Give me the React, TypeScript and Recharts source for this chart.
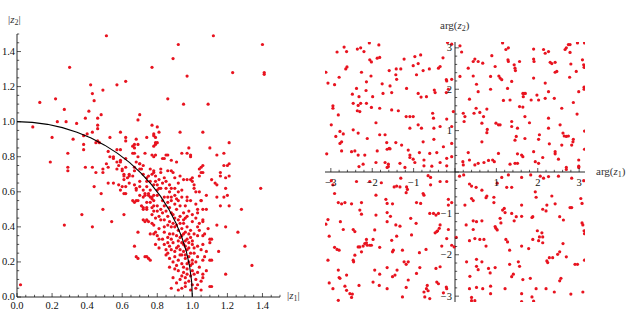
import React from 'react';
import { ScatterChart, Scatter, XAxis, YAxis, ReferenceLine } from 'recharts';

const RED = '#e8131f';
const SERIF = '"Liberation Serif", "DejaVu Serif", serif';

type Pt = [number, number];

// left panel: (|z1|, |z2|)
const absUpper: Pt[] = [
  [0.51, 1.49], [0.3, 1.31], [0.62, 1.23], [0.42, 1.21], [0.57, 1.21], [0.49, 1.18], [0.43, 1.16], [0.22, 1.13],
  [0.13, 1.11], [0.44, 1.12], [0.27, 1.07], [0.41, 1.06], [0.48, 1.04], [0.46, 1.02], [0.39, 1.02], [0.7, 1.04],
  [0.69, 1.01], [0.77, 1.31], [0.28, 1.0], [0.09, 0.97], [0.23, 1.0], [0.34, 0.99], [0.46, 0.98], [0.46, 0.96],
  [0.43, 0.94], [0.59, 0.94], [0.74, 0.91], [0.77, 0.98], [0.78, 0.93], [0.79, 0.91], [0.81, 0.94], [0.2, 0.91],
  [0.32, 0.9], [0.38, 0.92], [0.4, 0.93], [0.53, 0.91], [0.62, 0.91], [0.62, 0.89], [0.68, 0.9], [0.46, 0.89],
  [0.45, 0.88], [0.47, 0.88], [0.38, 0.87], [0.67, 0.87], [0.66, 0.86], [0.69, 0.87], [0.38, 0.84], [0.52, 0.83],
  [0.57, 0.84], [0.59, 0.84], [0.29, 0.82], [0.66, 0.82], [0.67, 0.82], [0.79, 0.81], [0.55, 0.8], [0.53, 0.8],
  [0.62, 0.79], [0.69, 0.8], [0.78, 0.86], [0.8, 0.88],
  [1.12, 1.49], [0.92, 1.44], [1.4, 1.44], [0.89, 1.36], [1.23, 1.28], [1.41, 1.28], [1.41, 1.27], [0.97, 1.26],
  [0.86, 1.13], [0.95, 1.1], [1.09, 1.1], [0.8, 0.97], [0.78, 0.92], [0.93, 0.94], [1.06, 0.94], [0.79, 0.87],
  [1.21, 0.88], [0.98, 0.85], [1.1, 0.85], [1.18, 0.82], [0.97, 0.82], [0.99, 0.81], [1.14, 0.81], [0.83, 0.79],
  [0.85, 0.81], [0.79, 0.88], [0.67, 0.85], [0.73, 0.82], [0.77, 0.81], [0.84, 0.79], [0.86, 0.81], [0.88, 0.78],
  [0.91, 0.77], [0.94, 0.82], [0.99, 0.8],
];

const absMiddle: Pt[] = [
  [0.19, 0.77], [0.29, 0.74], [0.29, 0.72], [0.39, 0.74], [0.43, 0.74], [0.45, 0.71], [0.49, 0.73], [0.49, 0.71],
  [0.51, 0.76], [0.52, 0.74], [0.55, 0.79], [0.57, 0.77], [0.58, 0.75], [0.59, 0.78], [0.57, 0.73], [0.6, 0.72],
  [0.61, 0.7], [0.61, 0.67], [0.64, 0.69], [0.44, 0.63], [0.48, 0.59], [0.52, 0.65], [0.55, 0.65], [0.58, 0.64],
  [0.6, 0.63], [0.62, 0.63], [0.62, 0.59], [0.64, 0.65], [0.66, 0.69], [0.67, 0.72], [0.66, 0.55], [0.68, 0.62],
  [0.69, 0.55], [0.68, 0.77], [0.7, 0.76], [0.71, 0.73], [0.72, 0.7], [0.7, 0.66], [0.72, 0.61], [0.73, 0.59],
  [0.74, 0.63], [0.76, 0.66], [0.77, 0.7], [0.78, 0.72], [0.78, 0.8], [0.75, 0.58], [0.77, 0.56], [0.74, 0.54],
  [0.72, 0.5], [0.74, 0.5], [0.78, 0.52], [0.8, 0.58], [0.81, 0.62], [0.79, 0.66], [0.8, 0.49], [0.77, 0.47],
  [0.79, 0.45], [0.72, 0.44], [0.74, 0.44], [0.77, 0.42], [0.61, 0.47], [0.54, 0.43], [0.49, 0.5], [0.37, 0.47],
  [0.27, 0.41], [0.43, 0.4],
  [1.05, 0.74], [1.06, 0.75], [1.06, 0.71], [1.18, 0.75], [1.2, 0.75], [1.16, 0.69], [1.13, 0.65], [1.19, 0.62],
  [1.2, 0.58], [1.14, 0.57], [1.18, 0.57], [1.39, 0.62], [1.16, 0.52], [1.28, 0.5], [1.04, 0.6], [1.01, 0.64],
  [1.04, 0.69], [1.0, 0.66], [1.0, 0.68], [1.21, 0.76], [1.04, 0.73],
  [0.7, 0.76], [0.72, 0.75], [0.67, 0.74], [0.7, 0.73], [0.59, 0.77], [0.6, 0.73], [0.62, 0.74], [0.76, 0.73],
  [0.78, 0.71], [0.82, 0.73], [0.82, 0.71], [0.86, 0.72], [0.88, 0.72], [0.89, 0.71], [0.95, 0.67], [0.97, 0.67],
  [0.99, 0.67], [0.84, 0.68], [0.85, 0.66], [0.75, 0.69], [0.74, 0.66], [0.64, 0.7], [0.63, 0.68], [0.61, 0.69],
  [0.67, 0.64], [0.7, 0.63], [0.68, 0.61], [0.8, 0.64], [0.8, 0.61], [0.87, 0.64], [0.88, 0.62], [0.9, 0.62],
  [0.94, 0.61], [1.01, 0.62], [1.02, 0.6], [1.14, 0.64], [1.16, 0.71], [1.19, 0.68], [1.21, 0.69], [1.05, 0.71],
  [1.11, 0.67], [0.59, 0.61], [0.61, 0.59], [0.73, 0.58], [0.76, 0.57], [0.78, 0.58], [0.84, 0.57], [0.86, 0.57],
  [0.88, 0.57], [0.97, 0.57], [1.08, 0.58], [0.9, 0.58], [0.92, 0.6], [0.82, 0.62], [0.78, 0.64], [0.76, 0.61],
  [0.74, 0.68], [0.87, 0.6], [0.85, 0.62], [0.83, 0.65], [0.81, 0.67], [0.79, 0.69], [0.92, 0.65], [0.93, 0.69],
  [0.9, 0.68],
];

const absLower: Pt[] = [
  [0.68, 0.55], [0.67, 0.54], [0.7, 0.58], [0.72, 0.57], [0.75, 0.59], [0.77, 0.57], [0.78, 0.55], [0.76, 0.54],
  [0.71, 0.52], [0.72, 0.51], [0.74, 0.51], [0.77, 0.51], [0.78, 0.49], [0.8, 0.52], [0.82, 0.5], [0.83, 0.48],
  [0.84, 0.52], [0.86, 0.54], [0.88, 0.55], [0.91, 0.56], [0.97, 0.55], [0.99, 0.55], [1.05, 0.55], [1.03, 0.5],
  [1.06, 0.5], [1.08, 0.5], [1.21, 0.52], [0.73, 0.43], [0.75, 0.43], [0.78, 0.41], [0.81, 0.46], [0.84, 0.44],
  [0.86, 0.46], [0.87, 0.43], [0.89, 0.42], [0.92, 0.44], [0.95, 0.42], [0.97, 0.4], [1.0, 0.43], [1.04, 0.42],
  [1.06, 0.44], [1.06, 0.43], [1.03, 0.4], [1.03, 0.48], [1.05, 0.55],
  [0.69, 0.37], [0.76, 0.36], [0.79, 0.37], [0.84, 0.37], [0.87, 0.36], [0.86, 0.34], [0.91, 0.35], [0.93, 0.34],
  [0.95, 0.36], [0.99, 0.34], [1.03, 0.35], [1.06, 0.35], [1.11, 0.33], [1.1, 0.31], [1.07, 0.36], [1.1, 0.33],
  [0.78, 0.36], [0.8, 0.35], [0.81, 0.33], [0.79, 0.3], [0.67, 0.29], [0.81, 0.28], [0.84, 0.3], [0.87, 0.29],
  [0.89, 0.31], [0.91, 0.28], [0.94, 0.31], [0.96, 0.29], [0.98, 0.28], [1.0, 0.3], [1.03, 0.29], [1.06, 0.3],
  [0.68, 0.23], [0.69, 0.22], [0.73, 0.23], [0.75, 0.22], [0.74, 0.23], [0.76, 0.21], [0.85, 0.24], [0.87, 0.22],
  [0.9, 0.23], [0.92, 0.21], [0.94, 0.24], [0.96, 0.22], [0.98, 0.23], [1.0, 0.21], [1.03, 0.23], [1.06, 0.21],
  [1.07, 0.23], [1.1, 0.21], [1.15, 0.26], [0.9, 0.16], [0.92, 0.15], [0.95, 0.14], [0.97, 0.16], [1.0, 0.15],
  [1.03, 0.14], [1.06, 0.13], [0.89, 0.11], [0.93, 0.1], [0.96, 0.11], [0.98, 0.09], [1.02, 0.1], [1.05, 0.09],
  [1.06, 0.11], [0.88, 0.05], [0.92, 0.04], [0.96, 0.06], [0.99, 0.04], [1.02, 0.05], [1.05, 0.04], [1.1, 0.06],
  [0.9, 0.4], [0.92, 0.38], [0.94, 0.39], [0.96, 0.37], [0.93, 0.46], [0.95, 0.48], [0.91, 0.5], [0.93, 0.52],
  [0.89, 0.47], [0.96, 0.45], [0.98, 0.31], [0.95, 0.26], [0.93, 0.27], [0.97, 0.19], [0.99, 0.18], [0.94, 0.19],
  [0.91, 0.18], [1.01, 0.25], [0.97, 0.33], [0.92, 0.32], [0.89, 0.36], [0.9, 0.26], [0.88, 0.4], [0.85, 0.49],
  [0.87, 0.51], [0.83, 0.55],
  [0.93, 0.42], [0.95, 0.44], [0.97, 0.46], [0.91, 0.41], [0.99, 0.38], [1.01, 0.36], [0.94, 0.35], [0.96, 0.32],
  [0.98, 0.36], [1.0, 0.32], [0.92, 0.29], [0.95, 0.3], [0.97, 0.27], [0.99, 0.25], [1.01, 0.28], [0.93, 0.24],
  [0.96, 0.24], [0.98, 0.2], [1.0, 0.19], [1.02, 0.2], [0.95, 0.17], [0.97, 0.13], [0.99, 0.12], [1.01, 0.13],
  [0.94, 0.12], [0.96, 0.08], [1.0, 0.07], [1.03, 0.07], [0.91, 0.08], [0.94, 0.05], [0.88, 0.33], [0.86, 0.31],
  [0.88, 0.27], [0.86, 0.25], [0.89, 0.2], [0.87, 0.17], [0.9, 0.45], [0.88, 0.48], [0.86, 0.41], [0.84, 0.4],
  [0.82, 0.44], [0.81, 0.39], [0.83, 0.33], [0.85, 0.27], [0.92, 0.55], [0.9, 0.53], [0.94, 0.57], [0.96, 0.52],
  [0.98, 0.49], [1.0, 0.47], [1.02, 0.45], [1.04, 0.38], [1.05, 0.27], [1.04, 0.17], [1.08, 0.15], [1.08, 0.26],
  [1.09, 0.39], [1.02, 0.53],
  [1.14, 0.41], [1.19, 0.4], [1.26, 0.37], [1.3, 0.29], [1.11, 0.21], [1.34, 0.18], [1.19, 0.13], [1.11, 0.06],
  [0.02, 0.07],
];

// right panel: (arg z1, arg z2) by quadrant
const argUpperLeft: Pt[] = [
  [-3.12, 2.41], [-3.07, 2.15], [-2.91, 2.11], [-2.8, 2.29], [-2.68, 3.02], [-2.62, 2.91], [-2.85, 2.9], [-2.64, 2.49],
  [-2.61, 2.54], [-2.36, 2.97], [-2.28, 3.0], [-2.2, 2.91], [-2.07, 3.12], [-2.06, 2.71], [-2.02, 2.66], [-1.88, 2.75],
  [-1.82, 2.77], [-1.84, 3.07], [-2.26, 2.41], [-2.03, 2.32], [-2.14, 2.18], [-2.38, 2.02], [-2.15, 1.97], [-1.76, 2.13],
  [-1.59, 2.45], [-1.57, 2.08], [-1.43, 2.35], [-1.41, 2.24], [-1.42, 2.49], [-1.31, 2.49], [-1.23, 2.73], [-1.01, 2.57],
  [-0.97, 2.79], [-0.93, 2.35], [-0.89, 2.62], [-0.83, 2.83], [-0.77, 2.45], [-0.62, 2.49], [-0.4, 2.51], [-0.36, 2.55],
  [-0.29, 2.76], [-0.21, 2.23], [-0.21, 1.92], [-0.16, 2.0], [-0.08, 2.24], [-0.08, 3.09], [-0.18, 3.13],
  [-2.48, 1.88], [-2.32, 1.82], [-1.99, 1.82], [-1.74, 1.9], [-1.53, 1.92], [-1.17, 2.02], [-0.89, 1.9], [-0.82, 1.81],
  [-0.69, 1.82], [-0.5, 1.98], [-0.48, 1.92], [-0.2, 2.2], [-2.95, 1.6], [-2.95, 1.54], [-2.82, 1.38], [-2.46, 1.66],
  [-2.34, 1.61], [-2.28, 1.66], [-2.3, 1.46], [-2.36, 1.48], [-2.14, 1.66], [-2.02, 1.56], [-1.82, 1.54], [-1.53, 1.5],
  [-1.37, 1.48], [-1.18, 1.34], [-1.09, 1.34], [-1.01, 1.34], [-1.09, 1.06], [-0.89, 1.14], [-0.81, 1.06], [-0.54, 1.42],
  [-0.52, 1.3], [-0.51, 1.06], [-0.36, 1.1], [-0.2, 1.28], [-0.04, 1.46], [-0.08, 1.1], [-2.99, 1.14], [-2.78, 0.98],
  [-2.88, 0.86], [-2.74, 0.73], [-2.78, 0.69], [-2.7, 0.92], [-2.46, 1.02], [-2.34, 0.94], [-2.12, 0.81], [-1.91, 1.19],
  [-1.82, 0.9], [-1.69, 0.9], [-1.65, 0.71], [-1.59, 0.57], [-1.43, 0.71], [-1.29, 0.65], [-1.13, 0.53], [-1.09, 0.41],
  [-0.86, 0.47], [-0.77, 0.73], [-0.61, 0.45], [-0.51, 0.79], [-0.44, 0.47], [-0.28, 0.61], [-0.08, 0.69], [-0.08, 0.37],
  [-3.1, 0.44], [-2.74, 0.51], [-2.5, 0.49], [-2.42, 0.51], [-2.34, 0.41], [-2.18, 0.41], [-1.88, 0.51], [-1.64, 0.55],
  [-1.57, 0.56], [-2.22, 0.19], [-2.32, 0.13], [-1.91, 0.23], [-1.69, 0.23], [-1.61, 0.19], [-1.61, 0.13], [-1.09, 0.35],
  [-1.01, 0.31], [-0.75, 0.29], [-0.56, 0.14], [-0.36, 0.23], [-0.2, 0.33], [-1.33, 0.21], [-1.21, 0.11], [-0.97, 0.23],
  [-0.75, 0.15], [-0.2, 0.15], [-1.64, 0.11],
];

const argUpperRight: Pt[] = [
  [0.12, 3.05], [0.16, 2.9], [0.12, 2.31], [0.2, 1.42], [0.24, 1.34], [0.22, 1.22], [0.32, 2.51], [0.35, 1.76],
  [0.32, 0.47], [0.35, 0.29], [0.44, 2.67], [0.48, 2.73], [0.44, 2.32], [0.56, 2.67], [0.52, 2.12], [0.56, 1.94],
  [0.51, 1.54], [0.46, 1.42], [0.6, 1.44], [0.69, 1.34], [0.67, 2.63], [0.65, 1.18], [0.77, 1.52], [0.78, 1.03],
  [0.77, 0.95], [0.65, 0.73], [0.56, 0.21], [0.7, 0.23], [0.81, 0.28], [0.89, 2.81], [0.86, 2.31], [0.86, 2.0],
  [0.91, 0.29], [0.95, 0.25], [0.97, 2.55], [0.99, 1.18], [1.05, 1.14], [1.09, 1.14], [1.06, 2.32], [1.09, 2.27],
  [1.13, 2.23], [1.15, 3.12], [1.23, 2.96], [1.29, 3.0], [1.17, 1.73], [1.05, 0.45], [1.28, 2.71], [1.29, 2.67],
  [1.33, 1.74], [1.27, 2.02], [1.37, 2.19], [1.43, 2.59], [1.45, 2.51], [1.46, 2.45], [1.37, 1.22], [1.37, 1.1],
  [1.45, 0.77], [1.48, 0.86], [1.51, 1.06], [1.51, 0.44], [1.56, 2.67], [1.56, 1.58], [1.64, 1.9], [1.67, 1.9],
  [1.7, 1.9], [1.64, 1.57], [1.65, 1.82], [1.69, 1.34], [1.69, 0.81], [1.51, 0.21], [1.61, 0.41], [1.64, 0.37],
  [1.8, 1.19], [1.84, 1.74], [1.9, 2.97], [1.9, 2.73], [1.91, 2.67], [1.9, 2.27], [1.9, 0.49], [1.94, 0.25],
  [1.98, 1.86], [2.02, 1.74], [2.02, 0.21], [2.04, 0.9], [2.02, 0.79], [2.12, 0.35], [2.14, 2.96], [2.18, 2.87],
  [2.26, 2.91], [2.18, 2.15], [2.26, 1.94], [2.18, 1.78], [2.26, 1.3], [2.26, 1.06], [2.28, 0.68], [2.3, 2.65],
  [2.34, 2.62], [2.42, 2.65], [2.42, 2.41], [2.46, 2.43], [2.4, 1.78], [2.42, 0.49], [2.42, 0.44], [2.5, 0.31],
  [2.54, 1.14], [2.58, 1.54], [2.61, 0.94], [2.64, 0.87], [2.69, 0.86], [2.74, 0.87], [2.58, 0.65], [2.66, 2.96],
  [2.69, 3.0], [2.74, 3.08], [2.78, 3.08], [2.78, 2.89], [2.77, 2.29], [2.8, 2.61], [2.86, 0.79], [2.85, 0.73],
  [2.82, 0.65], [2.86, 1.68], [2.93, 2.43], [2.95, 1.4], [2.96, 3.12], [2.99, 1.94], [2.99, 0.29], [2.99, 0.14],
  [3.08, 2.71], [3.11, 2.59], [3.12, 2.53], [3.12, 2.05], [3.12, 2.0], [3.13, 3.12], [3.13, 0.99], [3.13, 0.55],
  [0.19, 0.25], [0.2, 0.17], [0.48, 0.17], [1.33, 0.19], [1.45, 0.21], [2.69, 0.11], [2.99, 0.11], [2.69, 0.06],
];

const argLowerLeft: Pt[] = [
  [-2.99, -0.21], [-2.95, -0.31], [-2.91, -0.52], [-2.82, -0.74], [-2.74, -0.77], [-2.66, -0.74], [-2.5, -0.77],
  [-2.38, -0.23], [-2.26, -0.74], [-2.06, -0.23], [-1.91, -0.56], [-1.78, -0.26], [-1.67, -0.66], [-1.64, -0.76],
  [-1.51, -0.77], [-1.47, -0.36], [-1.41, -0.34], [-1.33, -0.36], [-1.31, -0.15], [-1.17, -0.36], [-1.15, -0.42],
  [-1.18, -0.5], [-0.93, -0.74], [-0.83, -0.76], [-0.77, -0.52], [-0.75, -0.56], [-0.65, -0.09], [-0.59, -0.13],
  [-0.59, -0.31], [-0.52, -1.0], [-0.46, -1.04], [-0.4, -1.0], [-0.36, -0.23], [-0.2, -0.23], [-0.16, -0.66],
  [-0.16, -0.8], [-0.08, -0.74], [-3.12, -1.26], [-3.07, -1.15], [-3.04, -1.55], [-2.77, -1.2], [-2.7, -1.39],
  [-2.46, -1.39], [-2.42, -1.44], [-2.3, -0.92], [-2.26, -1.02], [-2.22, -1.79], [-2.18, -1.73], [-2.14, -1.71],
  [-2.12, -1.77], [-2.3, -1.81], [-2.34, -1.81], [-2.26, -1.93], [-2.14, -1.63], [-2.06, -1.77], [-2.02, -1.77],
  [-1.98, -1.63], [-1.94, -1.4], [-1.91, -1.04], [-1.82, -1.82], [-1.64, -1.2], [-1.64, -0.98], [-1.56, -1.07],
  [-1.53, -1.65], [-1.51, -1.93], [-1.49, -1.89], [-1.43, -1.28], [-1.41, -1.55], [-1.33, -1.31], [-1.27, -1.89],
  [-1.23, -2.17], [-1.18, -2.23], [-1.13, -2.17], [-1.07, -1.12], [-1.05, -1.52], [-0.94, -1.24], [-0.86, -1.95],
  [-0.7, -1.87], [-0.61, -1.0], [-0.48, -1.47], [-0.42, -1.42], [-0.38, -1.36], [-0.44, -1.44], [-0.36, -1.28],
  [-0.32, -1.79], [-0.2, -1.61], [-0.16, -1.39], [-0.08, -1.77], [-0.02, -1.81], [-3.07, -2.13], [-3.04, -2.68],
  [-2.95, -2.82], [-2.91, -1.82], [-2.85, -1.87], [-2.8, -1.89], [-2.82, -2.37], [-2.8, -2.55], [-2.82, -3.1],
  [-2.78, -2.57], [-2.66, -2.76], [-2.62, -2.86], [-2.62, -2.49], [-2.54, -2.94], [-2.5, -3.03], [-2.48, -2.95],
  [-2.46, -2.13], [-2.45, -2.17], [-2.42, -2.01], [-2.32, -2.74], [-1.98, -2.66], [-1.94, -2.37], [-1.83, -2.74],
  [-1.82, -2.47], [-1.64, -2.31], [-1.64, -2.82], [-1.51, -2.53], [-1.45, -2.49], [-1.4, -2.37], [-1.27, -3.02],
  [-1.18, -2.79], [-1.13, -2.61], [-0.93, -2.45], [-0.85, -2.31], [-0.67, -2.74], [-0.69, -2.82], [-0.65, -2.87],
  [-0.75, -2.9], [-0.73, -3.02], [-0.61, -3.06], [-0.46, -2.33], [-0.44, -2.66], [-0.4, -2.7], [-0.36, -2.29],
  [-0.28, -2.92], [-0.21, -2.78], [-0.2, -2.82],
];

const argLowerRight: Pt[] = [
  [0.21, -0.07], [0.11, -0.1], [0.03, -1.58], [0.35, -0.29], [0.4, -0.34], [0.51, -0.37], [0.65, -0.44], [0.77, -0.58],
  [0.75, -0.62], [0.94, -0.61], [1.02, -0.27], [1.13, -0.13], [1.25, -0.37], [1.37, -0.37], [1.29, -0.07], [1.61, -0.13],
  [1.83, -0.07], [2.06, -0.1], [2.14, -0.15], [2.26, -0.11], [2.5, -0.1], [2.82, -0.15], [3.04, -0.64], [3.07, -0.76],
  [3.11, -0.21], [0.24, -0.8], [0.4, -0.64], [0.44, -0.69], [0.27, -1.28], [0.44, -1.18], [0.52, -1.2], [0.65, -1.18],
  [0.35, -1.66], [0.48, -1.61], [0.6, -1.63], [0.7, -1.63], [0.44, -1.39], [0.75, -1.79], [0.94, -0.74], [0.97, -1.32],
  [0.99, -1.36], [1.02, -1.4], [1.09, -1.12], [1.15, -0.92], [1.19, -0.88], [1.11, -1.23], [1.21, -0.98], [1.37, -1.0],
  [1.43, -1.18], [1.48, -1.08], [1.61, -1.07], [1.61, -0.8], [1.94, -0.48], [1.96, -0.61], [1.88, -1.08], [1.86, -1.1],
  [2.12, -0.9], [2.2, -0.94], [2.22, -0.8], [2.34, -0.58], [2.42, -0.77], [2.53, -1.08], [2.62, -1.16], [2.82, -0.86],
  [2.78, -0.86], [3.07, -1.23], [3.09, -1.28], [3.12, -1.42], [3.13, -1.49], [1.99, -1.42], [2.1, -1.47], [2.12, -1.57],
  [2.04, -1.57], [2.02, -1.66], [1.88, -1.63], [1.78, -1.85], [1.61, -1.79], [1.23, -1.63], [1.27, -1.69], [1.32, -1.89],
  [2.12, -1.71], [2.28, -2.07], [2.22, -2.15], [2.24, -2.19], [2.36, -2.07], [2.48, -1.99], [2.53, -1.93], [2.69, -2.05],
  [2.61, -1.73], [2.9, -2.23], [2.96, -2.23], [3.13, -2.13], [0.28, -2.17], [0.52, -2.11], [0.52, -2.28], [0.65, -2.17],
  [0.56, -2.36], [0.36, -2.52], [0.35, -2.82], [0.52, -2.79], [0.67, -2.82], [0.86, -2.76], [0.86, -2.94], [0.81, -2.33],
  [0.85, -2.44], [0.97, -2.31], [1.32, -2.23], [1.53, -2.17], [1.56, -2.28], [1.41, -2.47], [1.37, -2.53], [1.64, -2.6],
  [1.82, -2.57], [1.21, -2.82], [1.61, -2.94], [1.61, -3.13], [1.96, -2.82], [1.86, -3.02], [1.9, -3.12], [2.2, -2.82],
  [2.4, -2.9], [2.53, -2.63], [2.56, -2.57], [2.8, -2.95], [3.09, -2.9], [0.4, -3.03], [0.4, -3.11], [0.48, -3.11],
];

const absTicks = [
  0, 0.05, 0.1, 0.15, 0.2, 0.25, 0.3, 0.35, 0.4, 0.45, 0.5, 0.55, 0.6, 0.65, 0.7, 0.75,
  0.8, 0.85, 0.9, 0.95, 1, 1.05, 1.1, 1.15, 1.2, 1.25, 1.3, 1.35, 1.4, 1.45, 1.5,
];
const absLabels = [0, 0.2, 0.4, 0.6, 0.8, 1, 1.2, 1.4];

const argTicks = [
  -3, -2.8, -2.6, -2.4, -2.2, -2, -1.8, -1.6, -1.4, -1.2, -1, -0.8, -0.6, -0.4, -0.2, 0,
  0.2, 0.4, 0.6, 0.8, 1, 1.2, 1.4, 1.6, 1.8, 2, 2.2, 2.4, 2.6, 2.8, 3,
];
const argLabels = [-3, -2, -1, 1, 2, 3];

// unit circle |z1|^2 + |z2|^2 = 1 (reference curve)
const arcDegrees = [0, 5, 10, 15, 20, 25, 30, 35, 40, 45, 50, 55, 60, 65, 70, 75, 80, 85, 90];
const arc = arcDegrees.map((d) => ({ x: Math.cos((d * Math.PI) / 180), y: Math.sin((d * Math.PI) / 180) }));

const toObj = (arr: Pt[]) => arr.map(([x, y]) => ({ x, y }));
const absData = toObj([...absUpper, ...absMiddle, ...absLower]);
const argData = toObj([...argUpperLeft, ...argUpperRight, ...argLowerLeft, ...argLowerRight]);

const H = 327;
const ARG_PLOT = 260;
const TICK_FONT = 10.5;

const isLabel = (v: number, labels: number[]) => labels.some((l) => Math.abs(l - v) < 1e-6);
const fmtArg = (v: number) => (v < 0 ? '\u2212' + Math.abs(v) : String(v));

const dot = (p: any) => <circle cx={p.cx} cy={p.cy} r={1.6} fill={RED} />;

const AbsXTick = (p: any) => {
  const v = p.payload.value;
  const major = isLabel(v, absLabels);
  return (
    <g>
      <line x1={p.x} x2={p.x} y1={p.y} y2={p.y - (major ? 4 : 2.2)} stroke="#111" strokeWidth={0.7} />
      {major && (
        <text x={p.x} y={p.y + 12} textAnchor="middle" fontSize={TICK_FONT} fontFamily={SERIF} fill="#111">
          {v.toFixed(1)}
        </text>
      )}
    </g>
  );
};

const AbsYTick = (p: any) => {
  const v = p.payload.value;
  const major = isLabel(v, absLabels);
  return (
    <g>
      <line x1={p.x} x2={p.x + (major ? 4 : 2.2)} y1={p.y} y2={p.y} stroke="#111" strokeWidth={0.7} />
      {major && (
        <text x={p.x - 2} y={p.y} dy="0.33em" textAnchor="end" fontSize={TICK_FONT} fontFamily={SERIF} fill="#111">
          {v.toFixed(1)}
        </text>
      )}
    </g>
  );
};

// the arg axes cross at the origin, so ticks are moved to the centre of the plot
const ArgXTick = (p: any) => {
  const v = p.payload.value;
  const y0 = p.y - ARG_PLOT / 2;
  const major = Math.abs(v - Math.round(v)) < 1e-6;
  return (
    <g>
      <line x1={p.x} x2={p.x} y1={y0} y2={y0 - (major ? 4 : 2.2)} stroke="#111" strokeWidth={0.7} />
      {isLabel(v, argLabels) && (
        <text x={p.x} y={y0 + 11} dy="0.33em" textAnchor="middle" fontSize={TICK_FONT} fontFamily={SERIF} fill="#111">
          {fmtArg(v)}
        </text>
      )}
    </g>
  );
};

const ArgYTick = (p: any) => {
  const v = p.payload.value;
  const x0 = p.x + ARG_PLOT / 2;
  const major = Math.abs(v - Math.round(v)) < 1e-6;
  return (
    <g>
      <line x1={x0} x2={x0 + (major ? 4 : 2.2)} y1={p.y} y2={p.y} stroke="#111" strokeWidth={0.7} />
      {isLabel(v, argLabels) && (
        <text x={x0 - 3} y={p.y} dy="0.33em" textAnchor="end" fontSize={TICK_FONT} fontFamily={SERIF} fill="#111">
          {fmtArg(v)}
        </text>
      )}
    </g>
  );
};

const AxisTitle = ({ x, y, pre, sub, post }: { x: number; y: number; pre: string; sub: string; post: string }) => (
  <text x={x} y={y} fontSize={11} fontFamily={SERIF} fill="#333">
    {pre}
    <tspan fontStyle="italic">z</tspan>
    <tspan fontSize={8} dy={2}>{sub}</tspan>
    <tspan dy={-2}>{post}</tspan>
  </text>
);

export default function App() {
  return (
    <div style={{ position: 'absolute', left: 0, top: 0, width: 627, height: H, background: '#fff' }}>
      <div style={{ position: 'absolute', left: 0, top: 0 }}>
        <ScatterChart width={300} height={H} margin={{ top: 34, right: 20, bottom: 0, left: 0 }}>
          <XAxis
            type="number"
            dataKey="x"
            domain={[0, 1.5]}
            ticks={absTicks}
            interval={0}
            height={30}
            tickSize={0}
            tickMargin={0}
            tickLine={false}
            tick={AbsXTick}
            axisLine={{ stroke: '#111', strokeWidth: 0.9 }}
            allowDataOverflow
          />
          <YAxis
            type="number"
            dataKey="y"
            domain={[0, 1.5]}
            ticks={absTicks}
            interval={0}
            width={17}
            tickSize={0}
            tickMargin={0}
            tickLine={false}
            tick={AbsYTick}
            axisLine={{ stroke: '#111', strokeWidth: 0.9 }}
            allowDataOverflow
          />
          <Scatter data={absData} shape={dot} isAnimationActive={false} />
          <Scatter
            data={arc}
            line={{ stroke: '#000', strokeWidth: 1.1 }}
            shape={() => <g />}
            isAnimationActive={false}
          />
        </ScatterChart>
      </div>
      <div style={{ position: 'absolute', left: 300, top: 0 }}>
        <ScatterChart width={327} height={H} margin={{ top: 42, right: 42, bottom: 24, left: 24 }}>
          <XAxis
            type="number"
            dataKey="x"
            domain={[-Math.PI, Math.PI]}
            ticks={argTicks}
            interval={0}
            height={1}
            tickSize={0}
            tickMargin={0}
            tickLine={false}
            tick={ArgXTick}
            axisLine={false}
            allowDataOverflow
          />
          <YAxis
            type="number"
            dataKey="y"
            domain={[-Math.PI, Math.PI]}
            ticks={argTicks}
            interval={0}
            width={1}
            tickSize={0}
            tickMargin={0}
            tickLine={false}
            tick={ArgYTick}
            axisLine={false}
            allowDataOverflow
          />
          <ReferenceLine y={0} stroke="#111" strokeWidth={0.9} />
          <ReferenceLine x={0} stroke="#111" strokeWidth={0.9} />
          <Scatter data={argData} shape={dot} isAnimationActive={false} />
        </ScatterChart>
      </div>
      <svg width={627} height={H} style={{ position: 'absolute', left: 0, top: 0, pointerEvents: 'none' }}>
        <AxisTitle x={8} y={23} pre="|" sub="2" post="|" />
        <AxisTitle x={287} y={299} pre="|" sub="1" post="|" />
        <AxisTitle x={440} y={29} pre="arg(" sub="2" post=")" />
        <AxisTitle x={596} y={175} pre="arg(" sub="1" post=")" />
      </svg>
    </div>
  );
}
